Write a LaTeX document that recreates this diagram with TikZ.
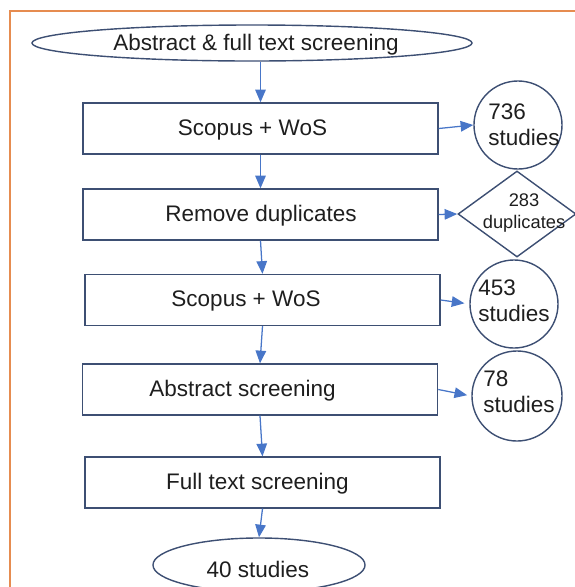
\documentclass[tikz,border=0pt]{standalone}
\usepackage{fontspec}
\setmainfont{Liberation Sans}
\usetikzlibrary{shapes.geometric,arrows.meta}
\definecolor{boxblue}{RGB}{61,79,115}
\definecolor{arrowblue}{RGB}{72,118,200}
\definecolor{frameorange}{RGB}{230,140,80}
\definecolor{txtgray}{RGB}{30,30,30}

\begin{document}
\begin{tikzpicture}[x=0.025cm,y=-0.025cm,
	stage/.style={draw=boxblue,line width=1pt,minimum width=8.875cm,minimum height=1.275cm,inner sep=0},
	oval/.style={draw=boxblue,line width=1pt,ellipse,inner sep=0},
	count/.style={draw=boxblue,line width=1pt,circle,inner sep=0,minimum size=2.2cm},
	txt/.style={text=txtgray,font=\fontsize{16}{18.5}\selectfont,inner sep=0},
	flow/.style={draw=arrowblue,line width=0.9pt,-{Triangle[length=9pt,width=7.5pt]}}]
	\useasboundingbox (0,0) rectangle (574,587);
	\draw[frameorange,line width=1.3pt] (10,600) -- (10,11) -- (590,11);

	% main column
	\node[oval,minimum width=11cm,minimum height=0.9cm] (start) at (252,43) {};
	\node[txt] (tstart) at (256,45) {Abstract \& full text screening};
	\node[stage] (search) at (260.5,128.5) {};
	\node[txt] (tsearch) at (252.5,130) {Scopus + WoS};
	\node[stage] (dedup) at (260.5,214.5) {};
	\node[txt] (tdedup) at (261,216) {Remove duplicates};
	\node[stage] (merged) at (262.5,300) {};
	\node[txt] (tmerged) at (246,301) {Scopus + WoS};
	\node[stage] (abs) at (260,389.5) {};
	\node[txt] (tabs) at (242.5,391) {Abstract screening};
	\node[stage] (full) at (262.5,482.5) {};
	\node[txt] (tfull) at (257.5,484) {Full text screening};
	\node[oval,minimum width=5.3cm,minimum height=1.35cm] (final) at (259,565) {};
	\node[txt] (tfinal) at (258,569) {40 studies};

	% side counts
	\node[count] (n736) at (518,125) {};
	\node[txt,anchor=west,align=left] (t736) at (488,125) {736\\studies};
	\node[draw=boxblue,line width=1pt,diamond,inner sep=0,minimum width=2.95cm,minimum height=2.15cm] (n283) at (517,214) {};
	\node[txt,align=center,font=\fontsize{13}{15.5}\selectfont] (t283) at (524,213) {283\\duplicates};
	\node[count] (n453) at (514,304) {};
	\node[txt,anchor=west,align=left] (t453) at (478,301) {453\\studies};
	\node[count,minimum size=2.25cm] (n78) at (517,396) {};
	\node[txt,anchor=west,align=left] (t78) at (483,392) {78\\studies};

	% arrows
	\draw[flow] (start.south -| search.north) -- (search.north);
	\draw[flow] (search.south) -- (dedup.north);
	\draw[flow] (dedup.south) -- (merged.north);
	\draw[flow] (merged.south) -- (abs.north);
	\draw[flow] (abs.south) -- (full.north);
	\draw[flow] (full.south) -- (final.north);
	\draw[flow] (search.east) -- (n736.west);
	\draw[flow] (dedup.east) -- (n283.west);
	\draw[flow,shorten >=3.5pt] (merged.east) -- (n453.west);
	\draw[flow,shorten >=3pt] (abs.east) -- (n78.west);
\end{tikzpicture}
\end{document}
